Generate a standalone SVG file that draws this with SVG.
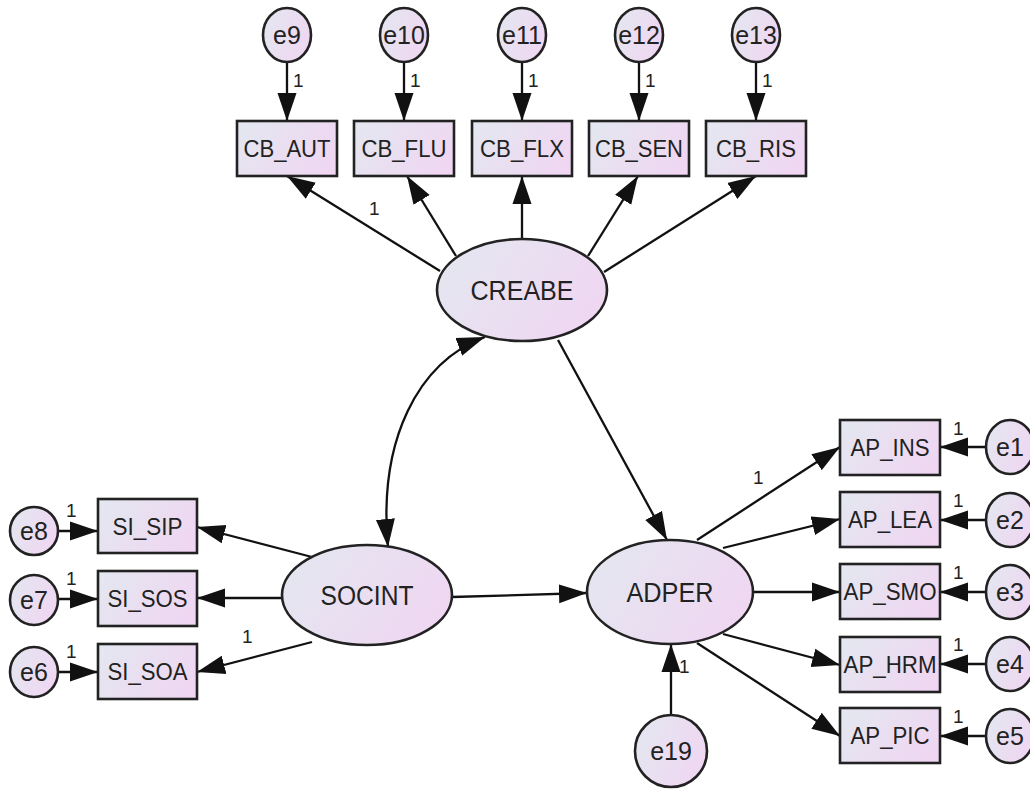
<svg xmlns="http://www.w3.org/2000/svg" width="1030" height="789" viewBox="0 0 1030 789">
<defs>
<linearGradient id="fill" x1="0" y1="0.3" x2="1" y2="0.7">
<stop offset="0" stop-color="#e4e6f0"/>
<stop offset="1" stop-color="#f0d6f2"/>
</linearGradient>
<marker id="ah" markerUnits="userSpaceOnUse" markerWidth="29" markerHeight="20" refX="28" refY="9.5" orient="auto-start-reverse" viewBox="0 0 29 19">
<path d="M0,0 L28,9.5 L0,19 z" fill="#111"/>
</marker>
<style>
.n{fill:url(#fill);stroke:#222;stroke-width:2.6}
.t{font-family:"Liberation Sans",Arial,sans-serif;fill:#222;text-anchor:middle}
.obs{font-size:24px}
.lat{font-size:27px}
.err{font-size:25px}
.one{font-family:"Liberation Sans",Arial,sans-serif;font-size:19px;fill:#222}
.c{fill:none;stroke:#111;stroke-width:2.3;marker-end:url(#ah)}
</style>
</defs>
<rect width="1030" height="789" fill="#fff"/>

<g id="connectors">
<line class="c" x1="287" y1="62" x2="287" y2="121"/>
<line class="c" x1="404" y1="62" x2="404" y2="121"/>
<line class="c" x1="522" y1="62" x2="522" y2="121"/>
<line class="c" x1="639" y1="62" x2="639" y2="121"/>
<line class="c" x1="756" y1="62" x2="756" y2="121"/>
<line class="c" x1="440" y1="271" x2="287" y2="176"/>
<line class="c" x1="456" y1="256" x2="407" y2="176"/>
<line class="c" x1="522" y1="239" x2="522" y2="176"/>
<line class="c" x1="588" y1="256" x2="638" y2="176"/>
<line class="c" x1="604" y1="272" x2="756" y2="176"/>
<line class="c" x1="558" y1="340" x2="667" y2="540"/>
<path class="c" d="M388,547 C378,440 418,362 485,337" style="marker-start:url(#ah)"/>
<line class="c" x1="312" y1="557" x2="197" y2="527"/>
<line class="c" x1="282" y1="598" x2="197" y2="598"/>
<line class="c" x1="312" y1="642" x2="197" y2="672"/>
<line class="c" x1="452" y1="597" x2="587" y2="593"/>
<line class="c" x1="58" y1="531" x2="98" y2="531"/>
<line class="c" x1="58" y1="599" x2="98" y2="599"/>
<line class="c" x1="58" y1="672" x2="98" y2="672"/>
<line class="c" x1="697" y1="540" x2="840" y2="447"/>
<line class="c" x1="723" y1="548" x2="840" y2="519"/>
<line class="c" x1="753" y1="592" x2="840" y2="592"/>
<line class="c" x1="723" y1="634" x2="840" y2="665"/>
<line class="c" x1="697" y1="643" x2="840" y2="736"/>
<line class="c" x1="986" y1="447" x2="940" y2="447"/>
<line class="c" x1="986" y1="520" x2="940" y2="520"/>
<line class="c" x1="986" y1="592" x2="940" y2="592"/>
<line class="c" x1="986" y1="664" x2="940" y2="664"/>
<line class="c" x1="986" y1="736" x2="940" y2="736"/>
<line class="c" x1="671" y1="715" x2="671" y2="644"/>
<text class="one" x="293" y="87">1</text>
<text class="one" x="410" y="87">1</text>
<text class="one" x="528" y="87">1</text>
<text class="one" x="645" y="87">1</text>
<text class="one" x="762" y="87">1</text>
<text class="one" x="369" y="215">1</text>
<text class="one" x="66" y="517">1</text>
<text class="one" x="66" y="585">1</text>
<text class="one" x="66" y="658">1</text>
<text class="one" x="242" y="643">1</text>
<text class="one" x="753" y="484">1</text>
<text class="one" x="953" y="435">1</text>
<text class="one" x="953" y="507">1</text>
<text class="one" x="953" y="579">1</text>
<text class="one" x="953" y="651">1</text>
<text class="one" x="953" y="723">1</text>
<text class="one" x="679" y="673">1</text>
</g>

<g id="e9"><ellipse class="n" cx="287" cy="35" rx="24" ry="27"/><text class="t err" x="287" y="44">e9</text></g>
<g id="e10"><ellipse class="n" cx="404" cy="35" rx="24" ry="27"/><text class="t err" x="404" y="44">e10</text></g>
<g id="e11"><ellipse class="n" cx="522" cy="35" rx="24" ry="27"/><text class="t err" x="522" y="44">e11</text></g>
<g id="e12"><ellipse class="n" cx="639" cy="35" rx="24" ry="27"/><text class="t err" x="639" y="44">e12</text></g>
<g id="e13"><ellipse class="n" cx="756" cy="35" rx="24" ry="27"/><text class="t err" x="756" y="44">e13</text></g>

<g id="CB_AUT"><rect class="n" x="237" y="121" width="100" height="55"/><text class="t obs" x="287" y="157" textLength="87" lengthAdjust="spacingAndGlyphs">CB_AUT</text></g>
<g id="CB_FLU"><rect class="n" x="354" y="121" width="100" height="55"/><text class="t obs" x="404" y="157" textLength="85" lengthAdjust="spacingAndGlyphs">CB_FLU</text></g>
<g id="CB_FLX"><rect class="n" x="472" y="121" width="100" height="55"/><text class="t obs" x="522" y="157" textLength="84" lengthAdjust="spacingAndGlyphs">CB_FLX</text></g>
<g id="CB_SEN"><rect class="n" x="589" y="121" width="100" height="55"/><text class="t obs" x="639" y="157" textLength="88" lengthAdjust="spacingAndGlyphs">CB_SEN</text></g>
<g id="CB_RIS"><rect class="n" x="706" y="121" width="100" height="55"/><text class="t obs" x="756" y="157" textLength="80" lengthAdjust="spacingAndGlyphs">CB_RIS</text></g>

<g id="CREABE"><ellipse class="n" cx="522" cy="290" rx="85" ry="51"/><text class="t lat" x="522" y="300" textLength="103" lengthAdjust="spacingAndGlyphs">CREABE</text></g>
<g id="SOCINT"><ellipse class="n" cx="367" cy="595" rx="85" ry="50"/><text class="t lat" x="367" y="605" textLength="93" lengthAdjust="spacingAndGlyphs">SOCINT</text></g>
<g id="ADPER"><ellipse class="n" cx="670" cy="592" rx="83" ry="52"/><text class="t lat" x="670" y="602" textLength="87" lengthAdjust="spacingAndGlyphs">ADPER</text></g>

<g id="SI_SIP"><rect class="n" x="98" y="499" width="99" height="54"/><text class="t obs" x="147.5" y="535" textLength="70" lengthAdjust="spacingAndGlyphs">SI_SIP</text></g>
<g id="SI_SOS"><rect class="n" x="98" y="571" width="99" height="55"/><text class="t obs" x="147.5" y="607" textLength="80" lengthAdjust="spacingAndGlyphs">SI_SOS</text></g>
<g id="SI_SOA"><rect class="n" x="98" y="644" width="99" height="55"/><text class="t obs" x="147.5" y="680" textLength="80" lengthAdjust="spacingAndGlyphs">SI_SOA</text></g>

<g id="e8"><ellipse class="n" cx="34" cy="531" rx="24" ry="24"/><text class="t err" x="34" y="540">e8</text></g>
<g id="e7"><ellipse class="n" cx="34" cy="600" rx="24" ry="25"/><text class="t err" x="34" y="609">e7</text></g>
<g id="e6"><ellipse class="n" cx="34" cy="672" rx="24" ry="25"/><text class="t err" x="34" y="681">e6</text></g>

<g id="AP_INS"><rect class="n" x="840" y="420" width="100" height="55"/><text class="t obs" x="890" y="456" textLength="79" lengthAdjust="spacingAndGlyphs">AP_INS</text></g>
<g id="AP_LEA"><rect class="n" x="840" y="492" width="100" height="55"/><text class="t obs" x="890" y="528" textLength="84" lengthAdjust="spacingAndGlyphs">AP_LEA</text></g>
<g id="AP_SMO"><rect class="n" x="840" y="564" width="100" height="55"/><text class="t obs" x="890" y="600" textLength="93" lengthAdjust="spacingAndGlyphs">AP_SMO</text></g>
<g id="AP_HRM"><rect class="n" x="840" y="637" width="100" height="55"/><text class="t obs" x="890" y="673" textLength="93" lengthAdjust="spacingAndGlyphs">AP_HRM</text></g>
<g id="AP_PIC"><rect class="n" x="840" y="708" width="100" height="55"/><text class="t obs" x="890" y="744" textLength="79" lengthAdjust="spacingAndGlyphs">AP_PIC</text></g>

<g id="e1"><ellipse class="n" cx="1010" cy="447" rx="24" ry="27"/><text class="t err" x="1010" y="456">e1</text></g>
<g id="e2"><ellipse class="n" cx="1010" cy="520" rx="24" ry="27"/><text class="t err" x="1010" y="529">e2</text></g>
<g id="e3"><ellipse class="n" cx="1010" cy="592" rx="24" ry="27"/><text class="t err" x="1010" y="601">e3</text></g>
<g id="e4"><ellipse class="n" cx="1010" cy="664" rx="24" ry="27"/><text class="t err" x="1010" y="673">e4</text></g>
<g id="e5"><ellipse class="n" cx="1010" cy="736" rx="24" ry="27"/><text class="t err" x="1010" y="745">e5</text></g>

<g id="e19"><ellipse class="n" cx="671" cy="751" rx="36" ry="36"/><text class="t err" x="671" y="760">e19</text></g>
</svg>
